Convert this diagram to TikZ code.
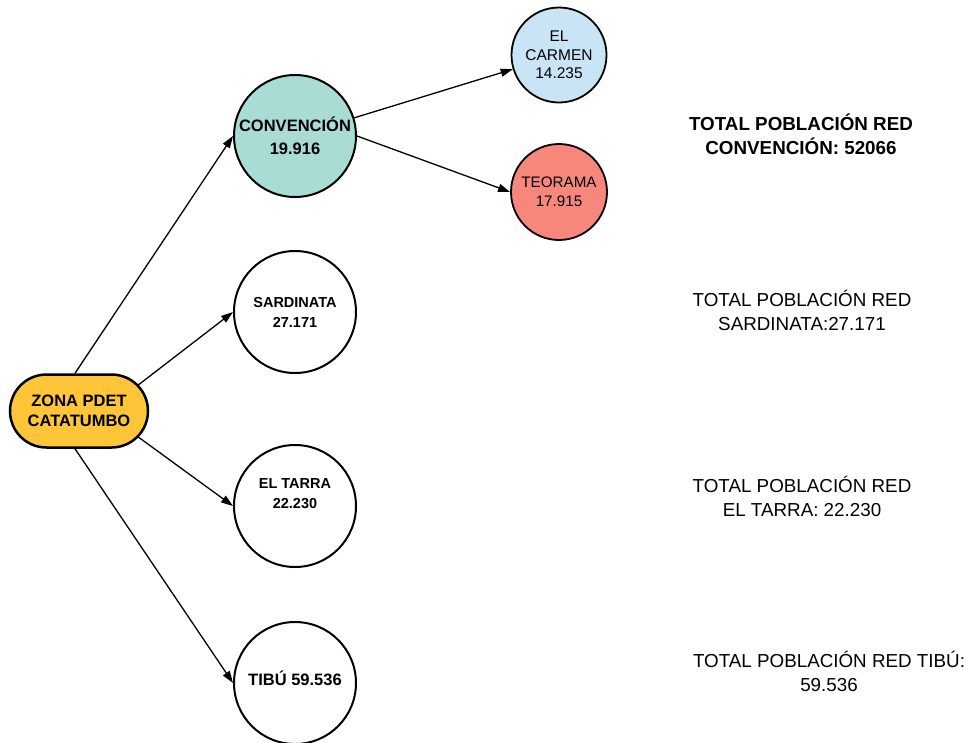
\documentclass[tikz,border=0pt]{standalone}
\usepackage{fontspec}
\setmainfont{Liberation Sans}
\usetikzlibrary{arrows.meta,shapes.misc}
\definecolor{zonafill}{HTML}{FDC537}
\definecolor{convfill}{HTML}{A8DCD4}
\definecolor{carmfill}{HTML}{C8E4F5}
\definecolor{teorfill}{HTML}{F6877A}
\begin{document}
\begin{tikzpicture}[x=1pt,y=-1pt,
  circ/.style={circle,draw=black,line width=2pt,inner sep=0pt,align=center,minimum size=122pt},
  smallcirc/.style={circ,line width=1.8pt},
  arr/.style={line width=1.3pt,-{Triangle[length=12pt,width=8pt]}},
  nbold/.style={align=center,font=\fontsize{14.5}{20}\selectfont\bfseries},
  nbig/.style={align=center,font=\fontsize{16.5}{23}\selectfont\bfseries},
  sidetxt/.style={align=center,font=\fontsize{18.8}{24}\selectfont},
  sidebold/.style={sidetxt,font=\fontsize{18.8}{24}\selectfont\bfseries}]
\useasboundingbox (0,0) rectangle (971,742);
\fill[white] (0,0) rectangle (971,742);

% main node
\node[rounded rectangle,draw=black,line width=2.5pt,fill=zonafill,
      minimum width=138pt,minimum height=73pt,inner sep=0pt,
      align=center,font=\fontsize{16.5}{20}\selectfont\bfseries]
      (zona) at (79,411) {ZONA PDET\\CATATUMBO};

% second level
\node[circ,fill=convfill,nbig] (conv) at (295,136) {CONVENCIÓN\\19.916};
\node[circ,nbold] (sard) at (295,312) {SARDINATA\\27.171};
\node[circ] (tarra) at (295,506) {};
\node[nbold] (tarratxt) at (295,494) {EL TARRA\\22.230};
\node[circ] (tibu) at (295,683) {};
\node[nbig] (tibutxt) at (295,678) {TIBÚ 59.536};

% third level
\node[smallcirc,fill=carmfill,minimum size=95pt,
      font=\fontsize{15.5}{18.5}\selectfont] (carm) at (559,55) {EL\\CARMEN\\14.235};
\node[smallcirc,fill=teorfill,minimum size=96pt,
      font=\fontsize{15.2}{19}\selectfont] (teor) at (559,192) {TEORAMA\\17.915};

% connectors
\draw[arr] ([xshift=-4pt]zona.north) -- (conv.west);
\draw[arr] ([xshift=-11pt,yshift=26pt]zona.east) -- (sard.west);
\draw[arr] ([xshift=-11pt,yshift=-26pt]zona.east) -- (tarra.west);
\draw[arr] ([xshift=-4pt]zona.south) -- (tibu.west);
\draw[arr] (conv) -- (carm);
\draw[arr] (conv.east) -- (teor.west);

% side texts
\node[sidebold] (t1) at (801,134) {TOTAL POBLACIÓN RED\\CONVENCIÓN: 52066};
\node[sidetxt] (t2) at (802,310) {TOTAL POBLACIÓN RED\\SARDINATA:27.171};
\node[sidetxt] (t3) at (802,496) {TOTAL POBLACIÓN RED\\EL TARRA: 22.230};
\node[sidetxt] (t4) at (829,671) {TOTAL POBLACIÓN RED TIBÚ:\\59.536};
\end{tikzpicture}
\end{document}
